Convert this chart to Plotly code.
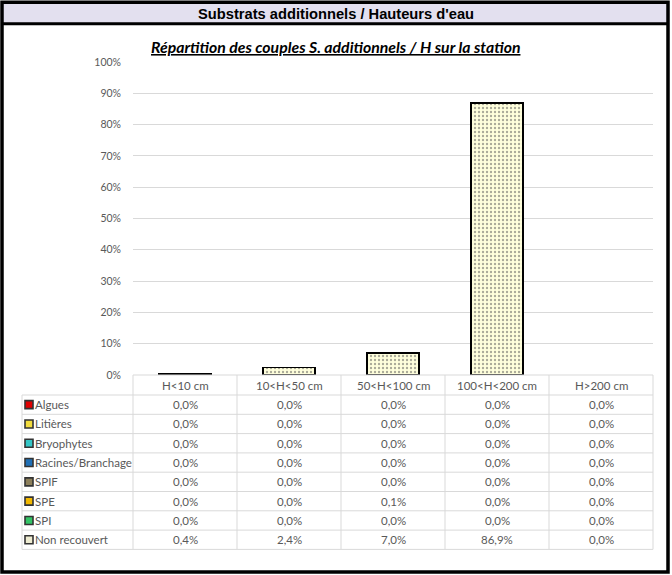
import plotly.graph_objects as go

# categories (water heights) and series (additional substrates), values in %
hauteurs = ["H<10 cm", "10<H<50 cm", "50<H<100 cm", "100<H<200 cm", "H>200 cm"]
substrats = ["Algues", "Litières", "Bryophytes", "Racines/Branchage", "SPIF", "SPE", "SPI", "Non recouvert"]

algues = [0.0, 0.0, 0.0, 0.0, 0.0]
litieres = [0.0, 0.0, 0.0, 0.0, 0.0]
bryophytes = [0.0, 0.0, 0.0, 0.0, 0.0]
racines = [0.0, 0.0, 0.0, 0.0, 0.0]
spif = [0.0, 0.0, 0.0, 0.0, 0.0]
spe = [0.0, 0.0, 0.1, 0.0, 0.0]
spi = [0.0, 0.0, 0.0, 0.0, 0.0]
non_recouvert = [0.4, 2.4, 7.0, 86.9, 0.0]

series = [algues, litieres, bryophytes, racines, spif, spe, spi, non_recouvert]
couleurs = ["#E00000", "#F2DC3C", "#33C6C6", "#1F6FB5", "#8C7F5A", "#F2B800", "#33C466", "#EDEBD0"]

W, H = 672, 575
L, R, T, B = 133, 653, 62, 375   # plot area in pixels


def px(x):
    return (x - L) / (R - L)


def py(y):
    return (B - y) / (B - T)


fig = go.Figure()
for nom, vals, col in zip(substrats, series, couleurs):
    if nom == "Non recouvert":
        marker = dict(color="#FFFFE0", line=dict(color="black", width=1.8),
                      pattern=dict(shape=".", fgcolor="#555555", bgcolor="#FFFFDC",
                                   size=4, solidity=0.28))
    else:
        marker = dict(color=col, line=dict(color="black", width=1.8))
    # empty cells are not drawn (no outline on zero-height bars)
    fig.add_trace(go.Bar(x=list(range(len(hauteurs))), y=[v if v else None for v in vals],
                         name=nom, marker=marker, width=0.5, showlegend=False))

shapes = []
annotations = []
grid = "#D9D9D9"
txt = "#595959"
font_tab = dict(family="Lato", size=11.5, color=txt)

# table geometry
head_h = 20
row_h = 19.3
left_col = 22
n = len(hauteurs)
col_w = (R - L) / n
row_top = B + head_h
table_bottom = row_top + row_h * len(substrats)

# header row and vertical lines
shapes.append(dict(type="line", xref="paper", yref="paper", x0=0, x1=1, y0=py(B), y1=py(B),
                   line=dict(color=grid, width=1)))
for i in range(n + 1):
    xx = px(L + i * col_w)
    shapes.append(dict(type="line", xref="paper", yref="paper", x0=xx, x1=xx,
                       y0=py(B), y1=py(table_bottom), line=dict(color=grid, width=1)))
shapes.append(dict(type="line", xref="paper", yref="paper", x0=px(left_col), x1=px(left_col),
                   y0=py(row_top), y1=py(table_bottom), line=dict(color=grid, width=1)))
for j in range(len(substrats) + 1):
    yy = py(row_top + j * row_h)
    shapes.append(dict(type="line", xref="paper", yref="paper", x0=px(left_col), x1=1,
                       y0=yy, y1=yy, line=dict(color=grid, width=1)))

for i, h in enumerate(hauteurs):
    annotations.append(dict(x=i, xref="x", y=py(B + head_h / 2), yref="paper", text=h,
                            showarrow=False, font=font_tab, xanchor="center", yanchor="middle"))

for j, (nom, vals, col) in enumerate(zip(substrats, series, couleurs)):
    yc = row_top + j * row_h + row_h / 2
    shapes.append(dict(type="rect", xref="paper", yref="paper",
                       x0=px(25), x1=px(33), y0=py(yc - 4), y1=py(yc + 4),
                       fillcolor=col, line=dict(color="#333333", width=1.6)))
    annotations.append(dict(x=px(33), xref="paper", y=py(yc), yref="paper", text=nom,
                            showarrow=False, font=font_tab, xanchor="left", yanchor="middle"))
    for i, v in enumerate(vals):
        annotations.append(dict(x=i, xref="x", y=py(yc), yref="paper",
                                text=f"{v:.1f}".replace(".", ",") + "%",
                                showarrow=False, font=font_tab, xanchor="center", yanchor="middle"))

# title band and outer frame
shapes.append(dict(type="rect", xref="paper", yref="paper", x0=px(2), x1=px(668),
                   y0=py(2), y1=py(23.7), fillcolor="#E3E0EF", line=dict(width=0), layer="below"))
shapes.append(dict(type="line", xref="paper", yref="paper", x0=px(2), x1=px(668),
                   y0=py(23.7), y1=py(23.7), line=dict(color="black", width=3)))
shapes.append(dict(type="rect", xref="paper", yref="paper", x0=px(2), x1=px(668),
                   y0=py(2.2), y1=py(572), line=dict(color="black", width=3.5)))

annotations.append(dict(x=px(336), xref="paper", y=py(13.5), yref="paper",
                        text="<b>Substrats additionnels / Hauteurs d'eau</b>", showarrow=False,
                        font=dict(family="Liberation Sans", size=14.7, color="black"),
                        xanchor="center", yanchor="middle"))
annotations.append(dict(x=px(335), xref="paper", y=py(47), yref="paper",
                        text="<b><i><u>Répartition des couples S. additionnels / H sur la station</u></i></b>",
                        showarrow=False,
                        font=dict(family="Lato", size=15.8, color="black"),
                        xanchor="center", yanchor="middle"))

fig.update_layout(
    width=W, height=H,
    margin=dict(l=L, r=W - R, t=T, b=H - B, pad=0),
    paper_bgcolor="white", plot_bgcolor="white",
    barmode="stack",
    bargap=0.5,
    shapes=shapes,
    annotations=annotations,
    xaxis=dict(range=[-0.5, n - 0.5], showticklabels=False, showgrid=False,
               zeroline=False, showline=False, fixedrange=True),
    yaxis=dict(range=[0, 100], dtick=10, ticksuffix="%", showgrid=True, gridcolor=grid,
               zeroline=False, showline=False, ticks="", ticklabelstandoff=11,
               tickfont=dict(family="Lato", size=10.5, color=txt)),
)

fig.write_html("out.html", config={"displayModeBar": False},
               post_script="document.body.style.margin='0';")
